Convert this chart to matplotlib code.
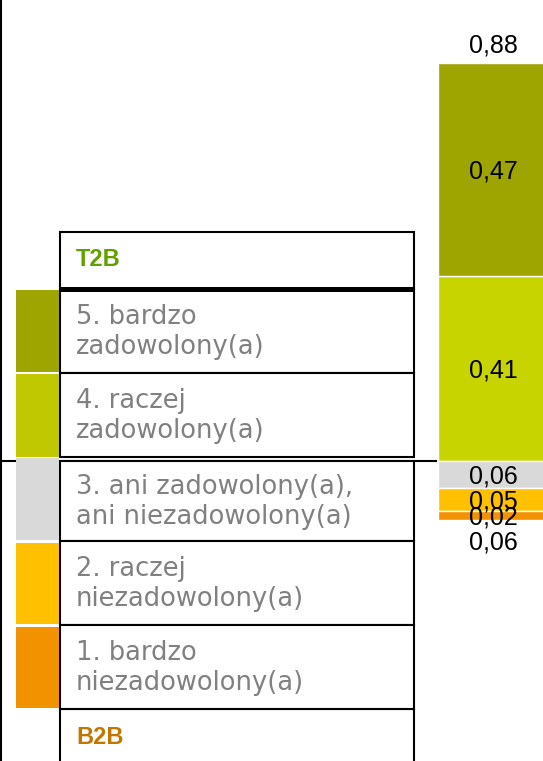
import matplotlib
matplotlib.use("Agg")
import matplotlib.pyplot as plt
from matplotlib.patches import Rectangle
from matplotlib import font_manager

# ---------------- data ----------------
pos_labels = ["4. raczej\nzadowolony(a)", "5. bardzo\nzadowolony(a)"]
pos_values = [0.41, 0.47]
neg_labels = ["3. ani zadowolony(a),\nani niezadowolony(a)",
              "2. raczej\nniezadowolony(a)", "1. bardzo\nniezadowolony(a)"]
neg_values = [0.06, 0.05, 0.02]
t2b_total = 0.88
b2b_total = 0.06
pos_colors = ["#C8D400", "#9EA400"]
neg_colors = ["#D9D9D9", "#FFC000", "#F39200"]
header_top = "T2B"
header_bottom = "B2B"

# legend order (top to bottom)
legend_labels = ["5. bardzo\nzadowolony(a)", "4. raczej\nzadowolony(a)",
                 "3. ani zadowolony(a),\nani niezadowolony(a)",
                 "2. raczej\nniezadowolony(a)", "1. bardzo\nniezadowolony(a)"]
legend_colors = ["#9EA400", "#BFC800", "#D9D9D9", "#FFC000", "#F39200"]

def fmt(v):
    return f"{v:.2f}".replace(".", ",")

names = {f.name for f in font_manager.fontManager.ttflist}
if "Liberation Sans Narrow" in names:
    head_font, head_size = "Liberation Sans Narrow", 19
elif "Liberation Sans" in names:
    head_font, head_size = "Liberation Sans", 17
else:
    head_font, head_size = "DejaVu Sans", 15
num_font = "Liberation Sans" if "Liberation Sans" in names else "DejaVu Sans"

W, H = 543, 761
fig = plt.figure(figsize=(W / 100, H / 100), dpi=100)

# ---------------- bar axes ----------------
ax = fig.add_axes([0, 0, 1, 1])
base_px = 461.0
ppu = 398.0 / 0.88
ax.set_ylim(-(H - base_px) / ppu, base_px / ppu)
bar_left, bar_w = 438.0, 110.0
ax.set_xlim(-0.5 - bar_left / bar_w, -0.5 + (W - bar_left) / bar_w)
ax.axis("off")

ax.axhline(0, xmin=0, xmax=436 / W, color="black", lw=1.5, zorder=1)

cum = 0.0
for v, c in zip(pos_values, pos_colors):
    ax.bar(0, v, width=1, bottom=cum, color=c, edgecolor="white", lw=1, zorder=2)
    ax.annotate(fmt(v), (0, cum + v / 2), xytext=(0, -9), textcoords="offset pixels",
                ha="center", va="baseline", fontsize=18, family=num_font, zorder=3)
    cum += v
ax.annotate(fmt(t2b_total), (0, cum), xytext=(0, 11), textcoords="offset pixels",
            ha="center", va="baseline", fontsize=18, family=num_font)

cum = 0.0
for v, c in zip(neg_values, neg_colors):
    ax.bar(0, -v, width=1, bottom=-cum, color=c, edgecolor="white", lw=1, zorder=2)
    ax.annotate(fmt(v), (0, -cum - v / 2), xytext=(0, -9), textcoords="offset pixels",
                ha="center", va="baseline", fontsize=18, family=num_font, zorder=3)
    cum += v
ax.annotate(fmt(b2b_total), (0, -cum), xytext=(0, -11), textcoords="offset pixels",
            ha="center", va="top", fontsize=18, family=num_font)

# ---------------- legend table ----------------
tab = fig.add_axes([0, 0, 1, 1])
tab.set_xlim(0, W)
tab.set_ylim(H, 0)
tab.axis("off")
tab.patch.set_alpha(0)

tab.plot([1, 1], [0, H], color="black", lw=1.5)

tx0, tx1 = 60, 414
rows = [(289, 373), (373, 457), (460.5, 541), (541, 625), (625, 709)]
sw = [(290, 372), (374, 457), (458, 540), (543, 624), (627, 708)]

def row_rect(y0, y1):
    tab.add_patch(Rectangle((tx0, y0), tx1 - tx0, y1 - y0, facecolor="white",
                            edgecolor="black", lw=1.5, zorder=2))

row_rect(232, 289)
tab.text(76, 260, header_top, color="#62A000", fontsize=head_size, fontweight="bold",
         family=head_font, va="center", ha="left", zorder=4)
row_rect(709, 775)
tab.text(76, 737, header_bottom, color="#C27800", fontsize=head_size, fontweight="bold",
         family=head_font, va="center", ha="left", zorder=4)

for (y0, y1), (s0, s1), lab, col in zip(rows, sw, legend_labels, legend_colors):
    row_rect(y0, y1)
    tab.add_patch(Rectangle((16, s0), 43, s1 - s0, facecolor=col, edgecolor="none", zorder=2))
    c = (y0 + y1) / 2
    l1, l2 = lab.split("\n")
    tab.text(76, c - 7, l1, color="#808080", fontsize=18.5, family="DejaVu Sans",
             va="baseline", ha="left", zorder=4)
    tab.text(76, c + 23, l2, color="#808080", fontsize=18.5, family="DejaVu Sans",
             va="baseline", ha="left", zorder=4)

tab.plot([tx0, tx1], [289.2, 289.2], color="black", lw=3.6, zorder=3, solid_capstyle="butt")

fig.savefig("out.png", dpi=100)
